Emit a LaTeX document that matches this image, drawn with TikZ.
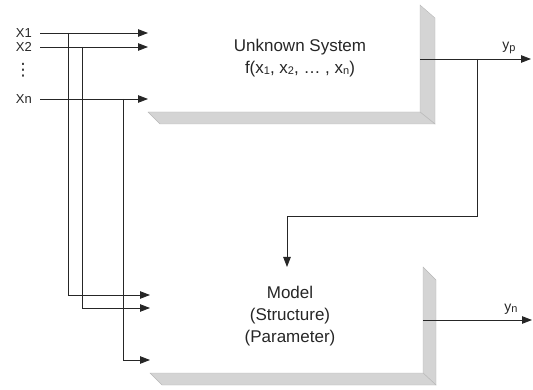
\documentclass[tikz,border=0pt]{standalone}
\usepackage{fontspec}
\setmainfont{Liberation Sans}
\newfontfamily\dejavu{DejaVu Sans}
\usetikzlibrary{arrows.meta}
\newcommand\mysub[1]{\raisebox{-1.5pt}{\fontsize{11}{11}\selectfont #1}}
\begin{document}
\begin{tikzpicture}[x=1pt,y=-1pt,
  wire/.style={line width=0.9pt, draw=black!85},
  arr/.style={wire,-{Triangle[length=10pt,width=7.5pt]}},
  face/.style={fill=black!17, draw=black!28, line width=0.4pt},
  lbl/.style={font=\fontsize{13}{15}\selectfont, inner sep=0pt, text=black!85},
  boxtext/.style={font=\fontsize{17}{22}\selectfont, align=center, text=black!85},
  area/.style={draw=none, inner sep=0pt, anchor=north west}
]
\useasboundingbox (0,0) rectangle (533,390);

% ---- shaded bevel faces
\fill[face] (420,5) -- (435,18) -- (435,124) -- (420,112) -- cycle;
\fill[face] (148,112) -- (420,112) -- (435,124) -- (160,124) -- cycle;
\fill[face] (423,267) -- (436,280) -- (436,385) -- (423,373) -- cycle;
\fill[face] (150,373) -- (423,373) -- (436,385) -- (162,385) -- cycle;

% ---- boxes
\node[area, minimum width=272pt, minimum height=107pt] (sys) at (148,5) {};
\node[boxtext] (systext) at (300,58) {Unknown System\\f(x\mysub{1}, x\mysub{2}, \dots\ , x\mysub{n})};
\node[area, minimum width=273pt, minimum height=106pt] (model) at (150,267) {};
\node[boxtext] (modeltext) at (290,316) {Model\\(Structure)\\(Parameter)};

% ---- input labels
\node[lbl, anchor=east] (x1) at (32,33) {X1};
\node[lbl, anchor=east] (x2) at (32,47) {X2};
\node[lbl, font=\dejavu\fontsize{17}{17}\selectfont] (dots) at (23,70) {⋮};
\node[lbl, anchor=east] (xn) at (32,99) {Xn};

% ---- input arrows to the system
\coordinate (s1) at (148,33);
\coordinate (s2) at (148,47);
\coordinate (sn) at (148,99);
\draw[arr] (x1.east) ++(8,0) -- (s1);
\draw[arr] (x2.east) ++(8,0) -- (s2);
\draw[arr] (xn.east) ++(8,0) -- (sn);

% ---- input branches to the model
\coordinate (m1) at (150,295);
\coordinate (m2) at (150,308);
\coordinate (mn) at (150,360);
\draw[arr] (68,33) |- (m1);
\draw[arr] (82,47) |- (m2);
\draw[arr] (123,99) |- (mn);

% ---- system output
\coordinate (yp) at (531,59);
\draw[arr] (sys.east |- yp) -- (yp);
\node[lbl, font=\fontsize{14}{16}\selectfont] (yplbl) at (509,48) {y\mysub{p}};

% ---- feedback to the model
\coordinate (fb) at (477,59);
\coordinate (fbm) at (287,216);
\draw[arr] (fb) |- (fbm) -- (fbm |- model.north);

% ---- model output
\coordinate (yn) at (532,320);
\draw[arr] (model.east |- yn) -- (yn);
\node[lbl, font=\fontsize{14}{16}\selectfont] (ynlbl) at (511,309) {y\mysub{n}};
\end{tikzpicture}
\end{document}
